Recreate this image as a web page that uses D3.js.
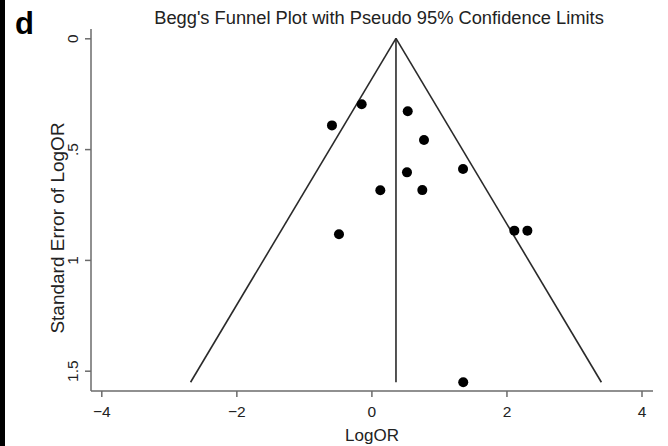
<!DOCTYPE html>
<html>
<head>
<meta charset="utf-8">
<script src="https://cdn.jsdelivr.net/npm/d3@7"></script>
<style>
  html, body { margin: 0; padding: 0; background: #fff; }
  svg { display: block; font-family: "Liberation Sans", Arial, sans-serif; }
</style>
</head>
<body>
<svg id="chart" width="668" height="446"></svg>
<script>
// Data
const logOR = [-0.144, -0.584, 0.538, 0.779, 1.357, 0.527, 0.132, 0.754, -0.48, 2.117, 2.31, 1.36];
const seLogOR = [0.298, 0.393, 0.329, 0.459, 0.590, 0.605, 0.686, 0.685, 0.884, 0.868, 0.868, 1.552];
const pooled = 0.364;
const xTicks = [-4, -2, 0, 2, 4];
const yTicks = [0, 0.5, 1, 1.5];
const yTickLabels = ["0", ".5", "1", "1.5"];
const title = "Begg's Funnel Plot with Pseudo 95% Confidence Limits";

const svg = d3.select("#chart");

const x = d3.scaleLinear().domain([-4, 4]).range([101.3, 641.5]);
const y = d3.scaleLinear().domain([0, 1.5]).range([38.3, 370.7]);

const axisColor = "#6b6b6b";
const textColor = "#222";

// left black strip
svg.append("rect").attr("x", 0).attr("y", 0).attr("width", 5).attr("height", 446).attr("fill", "#000");

// panel letter
svg.append("text").attr("x", 15).attr("y", 34)
  .attr("font-size", 31).attr("font-weight", "bold").attr("fill", "#000").text("d");

// title
svg.append("text").attr("x", 379).attr("y", 24).attr("text-anchor", "middle")
  .attr("font-size", 18.3).attr("fill", textColor).text(title);

const xAxisY = 391;
const yAxisX = 91;

// axes lines
svg.append("line").attr("x1", yAxisX).attr("x2", 653).attr("y1", xAxisY).attr("y2", xAxisY)
  .attr("stroke", axisColor).attr("stroke-width", 1.5);
svg.append("line").attr("x1", yAxisX).attr("x2", yAxisX).attr("y1", 29).attr("y2", xAxisY)
  .attr("stroke", axisColor).attr("stroke-width", 1.5);

// x axis
const gx = svg.append("g").attr("transform", `translate(0,${xAxisY})`)
  .call(d3.axisBottom(x).tickValues(xTicks).tickSize(6).tickPadding(9).tickFormat(d3.format("d")));
gx.select(".domain").remove();
gx.selectAll(".tick line").attr("stroke", axisColor).attr("stroke-width", 1.5);
gx.selectAll(".tick text").attr("font-size", 15.5).attr("fill", textColor)
  .attr("font-family", "Liberation Sans, Arial, sans-serif");

// y axis
const gy = svg.append("g").attr("transform", `translate(${yAxisX},0)`)
  .call(d3.axisLeft(y).tickValues(yTicks).tickSize(6).tickFormat((d, i) => yTickLabels[i]));
gy.select(".domain").remove();
gy.selectAll(".tick line").attr("stroke", axisColor).attr("stroke-width", 1.5);
gy.selectAll(".tick text").attr("font-size", 15.5).attr("fill", textColor)
  .attr("font-family", "Liberation Sans, Arial, sans-serif")
  .attr("x", null)
  .attr("text-anchor", "middle")
  .attr("transform", "translate(-18,0) rotate(-90)")
  .attr("dy", "0.35em");

// axis titles
svg.append("text").attr("x", 372).attr("y", 441).attr("text-anchor", "middle")
  .attr("font-size", 17).attr("fill", textColor).text("LogOR");
svg.append("text").attr("transform", `translate(64,228) rotate(-90)`)
  .attr("text-anchor", "middle").attr("font-size", 19).attr("fill", textColor)
  .text("Standard Error of LogOR");

// funnel
const seMax = d3.max(seLogOR);
const lineColor = "#2a2a2a";
const funnel = [
  [[pooled, 0], [pooled - 1.96 * seMax, seMax]],
  [[pooled, 0], [pooled + 1.96 * seMax, seMax]],
  [[pooled, 0], [pooled, seMax]]
];
const line = d3.line().x(d => x(d[0])).y(d => y(d[1]));
svg.selectAll("path.funnel").data(funnel).enter().append("path")
  .attr("class", "funnel").attr("d", line).attr("fill", "none")
  .attr("stroke", lineColor).attr("stroke-width", 1.6);

// points
svg.selectAll("circle.pt").data(logOR.map((v, i) => [v, seLogOR[i]])).enter().append("circle")
  .attr("class", "pt").attr("cx", d => x(d[0])).attr("cy", d => y(d[1]))
  .attr("r", 5).attr("fill", "#000");
</script>
</body>
</html>
